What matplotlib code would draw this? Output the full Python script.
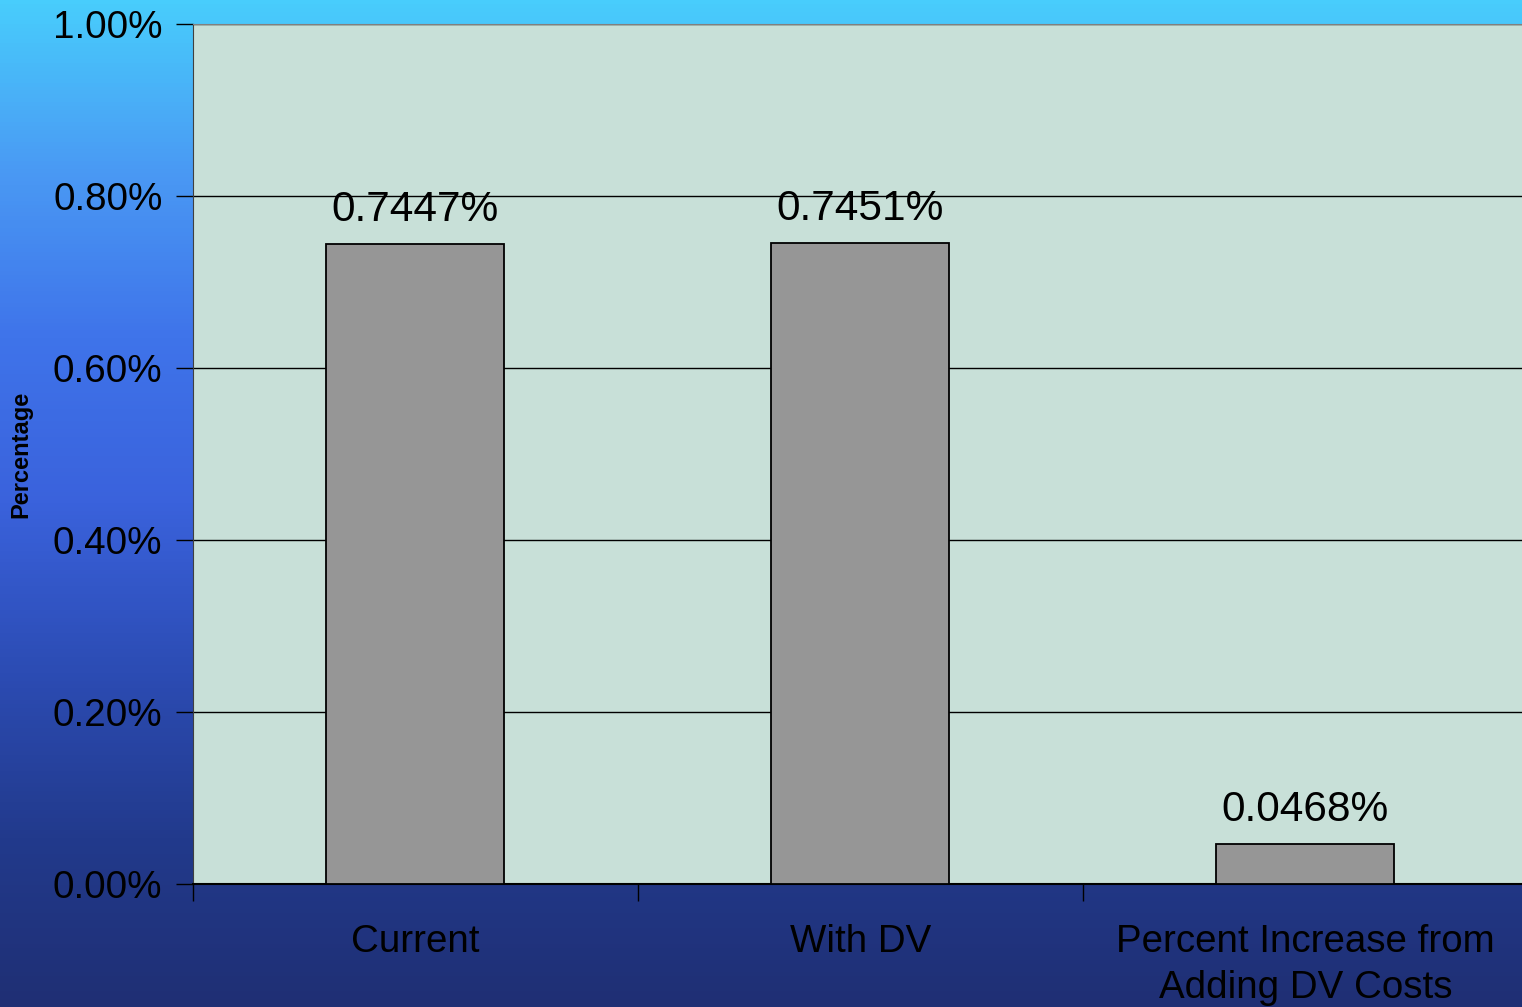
import numpy as np
import matplotlib.pyplot as plt
from matplotlib.colors import LinearSegmentedColormap

plt.rcParams['font.family'] = ['Liberation Sans', 'DejaVu Sans']

# chart data
categories = ['Current', 'With DV', 'Percent Increase from\nAdding DV Costs']
values = [0.7447, 0.7451, 0.0468]
value_labels = ['0.7447%', '0.7451%', '0.0468%']
yticks = [0.0, 0.2, 0.4, 0.6, 0.8, 1.0]

fig = plt.figure(figsize=(15.22, 10.07), dpi=100)

# slide-like blue background
bg = fig.add_axes([0, 0, 1, 1], zorder=0)
bg_cmap = LinearSegmentedColormap.from_list(
    'slide', ['#48cdfc', '#4a9af4', '#3f74ea', '#3a62dc', '#2c4cb4', '#223a8c', '#1f2f74'])
grad = np.linspace(0, 1, 256).reshape(-1, 1)
bg.imshow(grad, aspect='auto', cmap=bg_cmap, extent=[0, 1, 0, 1], origin='upper')
bg.axis('off')

ax = fig.add_axes([193/1522, 123/1007, 1335/1522, 860/1007], zorder=1)
ax.set_facecolor('#c8e0d8')

x = np.arange(len(categories))
bars = ax.bar(x, values, width=0.4, color='#969696', edgecolor='black', linewidth=1.3, zorder=3)

for xi, v, lab in zip(x, values, value_labels):
    ax.annotate(lab, (xi, v), xytext=(0, 10), textcoords='offset points',
                ha='center', va='bottom', fontsize=30.5, color='black', zorder=4)

ax.set_xlim(-0.5, 2.5)
ax.set_ylim(0, 1.0)
ax.set_yticks(yticks)
ax.set_yticklabels([f'{t:.2f}%' for t in yticks])
ax.yaxis.grid(True, color='black', linewidth=1.0, zorder=1)
ax.set_axisbelow(True)

ax.set_xticks([-0.5, 0.5, 1.5], minor=False)
ax.set_xticklabels([])
ax.set_xticks(x, minor=True)
ax.set_xticklabels(categories, minor=True, fontsize=27.7, linespacing=1.36)
ax.tick_params(axis='x', which='minor', length=0, pad=29)
ax.tick_params(axis='x', which='major', length=12, width=1, color='black')
ax.tick_params(axis='y', length=12, width=1, pad=10, labelsize=27.8, color='black')

ax.spines['right'].set_visible(False)
ax.spines['top'].set_color('#808080')
ax.spines['left'].set_color('#404040')
ax.spines['bottom'].set_color('black')
ax.spines['bottom'].set_linewidth(1.5)

ax.set_ylabel('Percentage', fontsize=17, fontweight='bold')
ax.yaxis.set_label_coords(-0.12, 0.5)

fig.savefig('out.png', dpi=100)
